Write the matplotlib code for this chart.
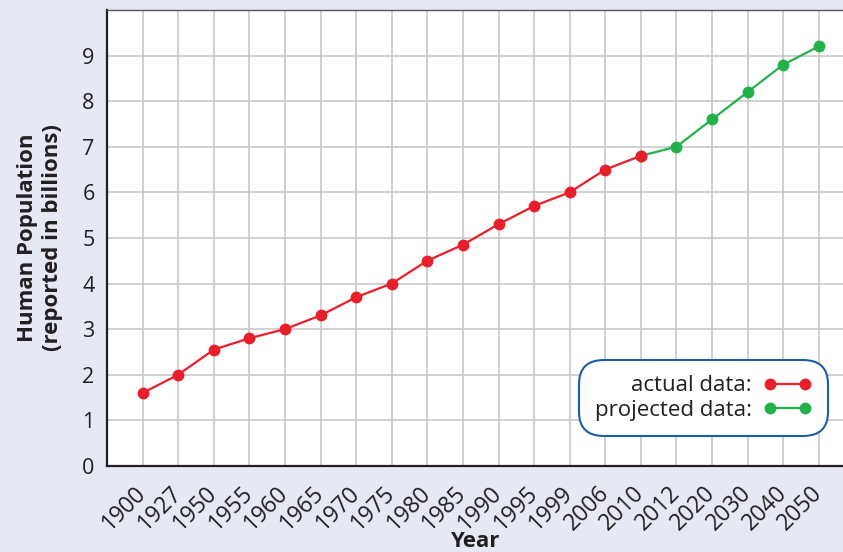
import matplotlib
matplotlib.use("Agg")
import matplotlib.pyplot as plt
from matplotlib.lines import Line2D

plt.rcParams['font.family'] = ['Open Sans', 'DejaVu Sans']

years = ["1900", "1927", "1950", "1955", "1960", "1965", "1970", "1975", "1980",
         "1985", "1990", "1995", "1999", "2006", "2010", "2012", "2020", "2030",
         "2040", "2050"]
actual = [1.6, 2.0, 2.55, 2.8, 3.0, 3.3, 3.7, 4.0, 4.5, 4.85, 5.3, 5.7, 6.0, 6.5, 6.8]
projected = [6.8, 7.0, 7.6, 8.2, 8.8, 9.2]

red = '#e81f2a'
green = '#22b04b'
bg = '#e6e8f4'
txt = '#231f20'

fig = plt.figure(figsize=(8.43, 5.52), dpi=100, facecolor=bg)
ax = fig.add_axes([0.127, 0.156, 0.873, 0.826])
ax.set_facecolor('white')

x_act = list(range(len(actual)))
x_proj = list(range(len(actual) - 1, len(actual) - 1 + len(projected)))

ax.plot(x_proj, projected, color=green, lw=1.6, marker='o', ms=7.5, zorder=3)
ax.plot(x_act, actual, color=red, lw=1.6, marker='o', ms=7.5, zorder=4)

ax.set_xlim(-1, len(years) - 0.32)
ax.set_ylim(0, 10)
ax.set_xticks(range(len(years)))
ax.set_xticklabels(years, rotation=45, ha='right', va='center', rotation_mode='anchor',
                   fontsize=16.5, color=txt)
ax.set_yticks(range(0, 10))
ax.set_yticklabels([str(i) for i in range(0, 10)], fontsize=15.5, color=txt)
ax.tick_params(length=0)
ax.tick_params(axis='y', pad=9)
ax.tick_params(axis='x', pad=17)

ax.grid(True, color='#c8c8c8', lw=1.2)
ax.set_axisbelow(True)
for s in ['left', 'bottom']:
    ax.spines[s].set_color(txt)
    ax.spines[s].set_linewidth(1.6)
ax.spines['top'].set_color('#555555')
ax.spines['top'].set_linewidth(1.0)
ax.spines['right'].set_visible(False)

ax.set_ylabel('Human Population\n(reported in billions)', fontsize=16, fontweight='bold',
              color=txt, labelpad=14, linespacing=1.25)
ax.set_xlabel('Year', fontsize=16, fontweight='bold', color=txt, labelpad=-3)

handles = [Line2D([0], [0], color=red, lw=1.6, marker='o', ms=7.5),
           Line2D([0], [0], color=green, lw=1.6, marker='o', ms=7.5)]
leg = ax.legend(handles, ['actual data:', 'projected data:'], loc='lower right',
                bbox_to_anchor=(0.985, 0.055), markerfirst=False, numpoints=2,
                fontsize=16, frameon=True, handlelength=2.2, handletextpad=0.5,
                labelspacing=0.15, borderpad=0.4, fancybox=True)
fr = leg.get_frame()
fr.set_edgecolor('#1a5ea8')
fr.set_linewidth(1.5)
fr.set_facecolor('white')
fr.set_alpha(1)
fr.set_boxstyle('round', pad=0.3, rounding_size=1.1)
for t in leg.get_texts():
    t.set_color(txt)

fig.savefig('out.png', dpi=100, facecolor=bg)
